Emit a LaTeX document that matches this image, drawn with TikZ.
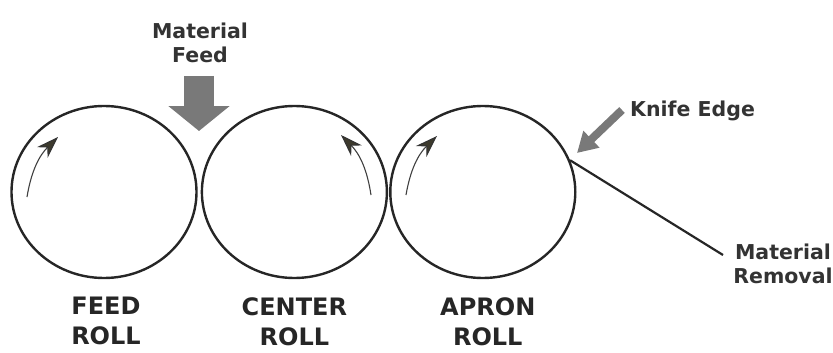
\documentclass[tikz,border=0pt]{standalone}
\usepackage{fontspec}
\setmainfont{DejaVu Sans}
\usetikzlibrary{shapes.geometric,positioning,arrows.meta}

\begin{document}
\begin{tikzpicture}[
  >=Stealth,
  roll/.style={draw=black!85,ellipse,line width=2.4pt,inner sep=0pt,minimum width=185pt,minimum height=172pt},
  caption/.style={font=\bfseries\fontsize{24pt}{30pt}\selectfont,text=black!85,align=center,inner sep=0pt},
  note/.style={font=\bfseries\fontsize{20.5pt}{24pt}\selectfont,text=black!80,align=center,inner sep=0pt},
  spin/.style={-{Stealth[length=22pt,width=15pt,inset=7pt,fill=black!75!olive,color=black!80]},line width=1.1pt,black!75},
  push/.style={gray!95!black,line width=#1}
]
  \useasboundingbox (0,0) rectangle (833pt,-353pt);

  \node[roll] (feed) at (104pt,-192pt) {};
  \node[roll,right=3pt of feed] (center) {};
  \node[roll,right=1pt of center] (apron) {};

  \node[caption,below=18pt of feed,xshift=2pt] (feedtext) {FEED\\ROLL};
  \node[caption,below=18pt of center] (centertext) {CENTER\\ROLL};
  \node[caption,below=18pt of apron,xshift=5pt] (aprontext) {APRON\\ROLL};

  \node[note] (feedlabel) at (200pt,-43pt) {Material\\Feed};
  \node[note,anchor=west] (knife) at (630pt,-111pt) {Knife Edge};
  \node[note] (removal) at (783pt,-264pt) {Material\\Removal};

  % rotation arrows
  \coordinate (feedstart) at (27pt,-197pt);
  \coordinate (feedend) at (58pt,-137pt);
  \coordinate (centerstart) at (371pt,-195pt);
  \coordinate (centerend) at (341pt,-135pt);
  \coordinate (apronstart) at (406pt,-195pt);
  \coordinate (apronend) at (437pt,-136pt);
  \draw[spin] (feedstart) to[bend left=18] (feedend);
  \draw[spin] (centerstart) to[bend right=18] (centerend);
  \draw[spin] (apronstart) to[bend left=18] (apronend);

  % feed and knife arrows
  \coordinate (feedtop) at (199pt,-76pt);
  \coordinate (nip) at (199pt,-131pt);
  \draw[push=30pt,-{Triangle[length=25pt,width=60pt]}] (feedtop) -- (nip);
  \coordinate (knifetail) at (622pt,-110pt);
  \coordinate (knifetip) at (577pt,-153pt);
  \draw[push=8pt,-{Triangle[length=20pt,width=22pt]}] (knifetail) -- (knifetip);

  \coordinate (sheetend) at (723pt,-255pt);
  \draw[line width=2.2pt,black!85] (apron.20) -- (sheetend);
\end{tikzpicture}
\end{document}
